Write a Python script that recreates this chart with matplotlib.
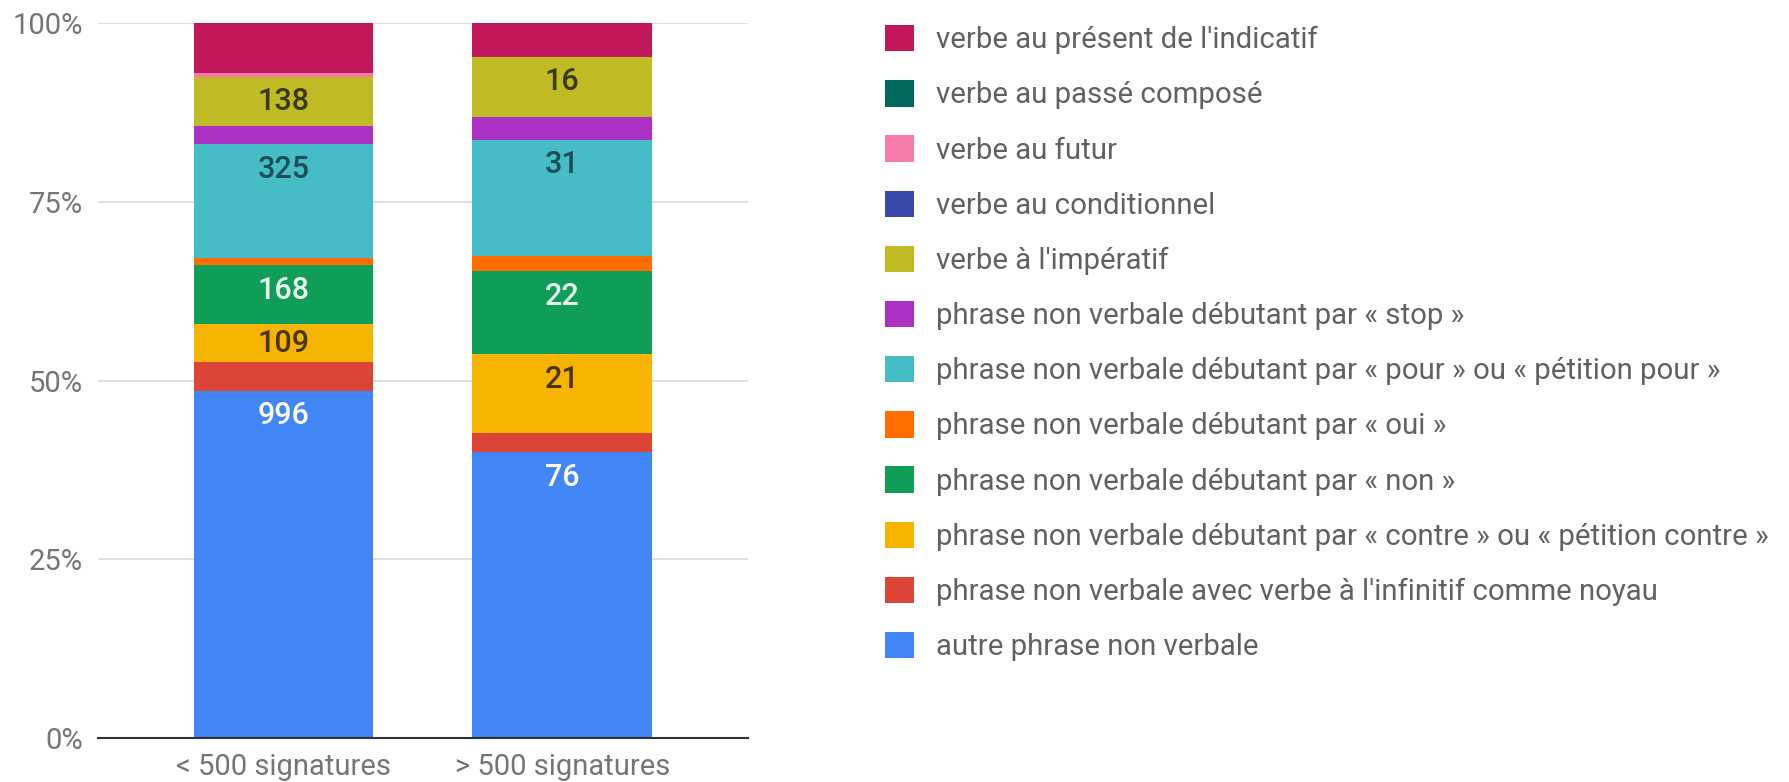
import numpy as np
import matplotlib.pyplot as plt
from matplotlib.patches import Patch

plt.rcParams['font.family'] = ['Roboto', 'DejaVu Sans']

categories = ['< 500 signatures', '> 500 signatures']

# counts per series (bottom of the stack first)
autre = [996, 76]
infinitif = [82, 5]
contre = [109, 21]
non = [168, 22]
oui = [22, 4]
pour = [325, 31]
stop = [54, 6]
imperatif = [138, 16]
conditionnel = [0, 0]
futur = [14, 0]
passe_compose = [0, 0]
present = [142, 9]

series_names = [
    "autre phrase non verbale",
    "phrase non verbale avec verbe à l'infinitif comme noyau",
    "phrase non verbale débutant par « contre » ou « pétition contre »",
    "phrase non verbale débutant par « non »",
    "phrase non verbale débutant par « oui »",
    "phrase non verbale débutant par « pour » ou « pétition pour »",
    "phrase non verbale débutant par « stop »",
    "verbe à l'impératif",
    "verbe au conditionnel",
    "verbe au futur",
    "verbe au passé composé",
    "verbe au présent de l'indicatif",
]
series_counts = [autre, infinitif, contre, non, oui, pour, stop, imperatif,
                 conditionnel, futur, passe_compose, present]
colors = ['#4285F4', '#DB4437', '#F4B400', '#0F9D58', '#FF6D00', '#46BDC6',
          '#AB30C4', '#C0BA24', '#3949AB', '#F77BAA', '#00695C', '#C2185B']
# series that show a value label, and the label colour
label_colors = {0: 'white', 2: '#4a3500', 3: '#e8f5ec', 5: '#1d4d57', 7: '#3a3a10'}

data = np.array(series_counts, dtype=float)
pct = data / data.sum(axis=0) * 100

fig = plt.figure(figsize=(17.9, 7.82), dpi=100)
ax = fig.add_axes([98 / 1790, 44 / 782, 650 / 1790, 715 / 782])

x = np.arange(len(categories))
bottom = np.zeros(len(categories))
for i, name in enumerate(series_names):
    ax.bar(x, pct[i], bottom=bottom, width=0.645, color=colors[i], linewidth=0, zorder=3)
    if i in label_colors:
        for j in range(len(categories)):
            if data[i, j] > 0:
                top = bottom[j] + pct[i, j]
                y = top - min(pct[i, j] / 2, 3.5)
                ax.text(x[j], y, f'{int(data[i, j])}', ha='center', va='center',
                        fontsize=22, color=label_colors[i], fontweight='medium', zorder=4)
    bottom += pct[i]

ax.set_xlim(-0.666, 1.667)
ax.set_ylim(0, 100)
ax.set_yticks([0, 25, 50, 75, 100])
ax.set_yticklabels(['0%', '25%', '50%', '75%', '100%'])
ax.set_xticks(x)
ax.set_xticklabels(categories)
ax.tick_params(axis='y', length=0, pad=11, labelsize=21, labelcolor='#757575')
ax.tick_params(axis='x', length=0, pad=11, labelsize=21, labelcolor='#757575')
ax.grid(axis='y', color='#d9d9d9', linewidth=1.2, zorder=0)
for s in ['top', 'right', 'left']:
    ax.spines[s].set_visible(False)
ax.spines['bottom'].set_color('#333333')
ax.spines['bottom'].set_linewidth(1.5)
ax.spines['bottom'].set_zorder(5)

handles = [Patch(facecolor=colors[i], edgecolor='none') for i in range(len(series_names))][::-1]
fig.legend(handles, series_names[::-1], loc='upper left',
           bbox_to_anchor=(885 / 1790, 1 - 25 / 782), frameon=False,
           fontsize=21.2, labelcolor='#616161', handlelength=1.0, handleheight=1.0,
           handletextpad=0.72, labelspacing=0.88, borderpad=0, borderaxespad=0)

fig.savefig('out.png', dpi=100)
